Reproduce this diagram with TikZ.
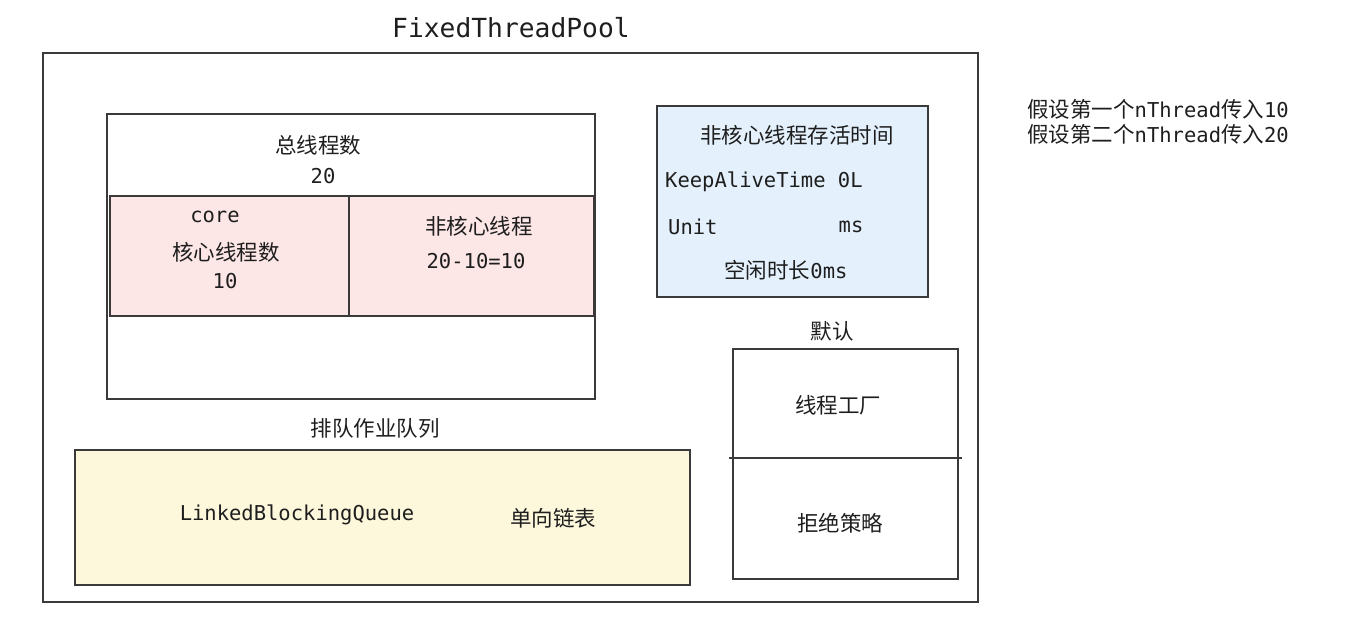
\documentclass[tikz,border=0pt]{standalone}
\usepackage{fontspec}
\setmainfont{Noto Sans CJK SC}
\newfontfamily\cjk{Noto Sans CJK SC}
\newfontfamily\mono{DejaVu Sans Mono}
\definecolor{linec}{HTML}{3A3A3A}
\definecolor{txt}{HTML}{1E1E1E}
\definecolor{pinkf}{HTML}{FCE6E6}
\definecolor{bluef}{HTML}{E4F1FC}
\definecolor{yellowf}{HTML}{FDF7DC}
\tikzset{
  box/.style={draw=linec, line width=1.1pt},
  lbl/.style={inner sep=0pt, text=txt, font=\fontsize{21.5}{25}\selectfont\cjk, anchor=center},
  mlbl/.style={inner sep=0pt, text=txt, font=\fontsize{20.5}{25}\selectfont\mono, anchor=center},
}
\newcommand{\mm}[1]{{\fontsize{20.5}{25}\selectfont\mono #1}}
\begin{document}
\begin{tikzpicture}[x=1pt,y=-1pt]
\useasboundingbox (0,0) rectangle (1347,629);
% title
\node[mlbl, font=\fontsize{26.3}{30}\selectfont\mono] (title) at (511,28) {FixedThreadPool};
% outer
\draw[box] (43,53) rectangle (978,602);
% total box
\draw[box] (107,114) rectangle (595,399);
\node[lbl] (total) at (318,145) {总线程数};
\node[mlbl] (totaln) at (323,176) {20};
% pink boxes
\draw[box, fill=pinkf] (110,196) rectangle (349,316);
\draw[box, fill=pinkf] (349,196) rectangle (594,316);
\node[mlbl] (core) at (215,217) {core};
\node[lbl] (corecn) at (226,252) {核心线程数};
\node[mlbl] (coren) at (225,281) {10};
\node[lbl] (noncore) at (479,226) {非核心线程};
\node[mlbl] (noncoren) at (476,261) {20-10=10};
% blue box
\draw[box, fill=bluef] (657,106) rectangle (928,297);
\node[lbl] (alive) at (797,135) {非核心线程存活时间};
\node[mlbl, anchor=west] (kat) at (665,182) {KeepAliveTime 0L};
\node[mlbl, anchor=west] (unit) at (668,227) {Unit};
\node[mlbl] (ms) at (851,227) {ms};
\node[lbl] (idle) at (786,270) {空闲时长\mm{0ms}};
% default box
\node[lbl] (default) at (832,331) {默认};
\draw[box] (733,349) rectangle (958,579);
\draw[box] (729,458) -- (962,458);
\node[lbl] (factory) at (838,405) {线程工厂};
\node[lbl] (reject) at (840,523) {拒绝策略};
% queue
\node[lbl] (queuelbl) at (375,428) {排队作业队列};
\draw[box, fill=yellowf] (75,450) rectangle (690,585);
\node[mlbl] (lbq) at (297,515) {LinkedBlockingQueue};
\node[lbl] (single) at (553,518) {单向链表};
% notes
\node[lbl, anchor=west] (note1) at (1027,109) {假设第一个\mm{nThread}传入\mm{10}};
\node[lbl, anchor=west] (note2) at (1027,134) {假设第二个\mm{nThread}传入\mm{20}};
\end{tikzpicture}
\end{document}
